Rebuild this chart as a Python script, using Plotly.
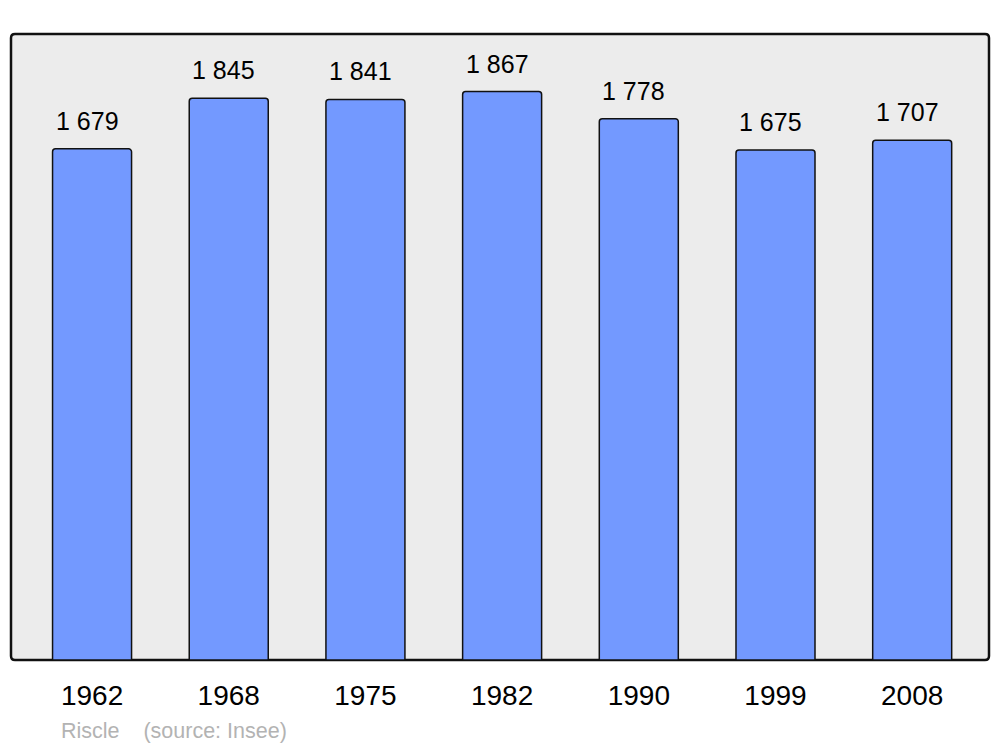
import plotly.graph_objects as go

years = ["1962", "1968", "1975", "1982", "1990", "1999", "2008"]
population = [1679, 1845, 1841, 1867, 1778, 1675, 1707]
value_labels = ["1 679", "1 845", "1 841", "1 867", "1 778", "1 675", "1 707"]
source_text = "Riscle    (source: Insee)"

FONT = "Liberation Sans, Arial, sans-serif"

fig = go.Figure()
fig.add_trace(go.Bar(
    x=years, y=population, width=0.578,
    marker=dict(color="#7399ff", line=dict(color="#111111", width=1.5), cornerradius=3),
    hoverinfo="skip",
))

for i, (v, lab) in enumerate(zip(population, value_labels)):
    fig.add_annotation(x=i, y=v, xref="x", yref="y", text=lab, showarrow=False,
                       yshift=28, xshift=-5,
                       font=dict(family=FONT, size=25, color="#000000"))

# rounded frame
rx, ry = 4 / 978, 4 / 626
path = (f"M {rx},0 L {1-rx},0 Q 1,0 1,{ry} L 1,{1-ry} Q 1,1 {1-rx},1 "
        f"L {rx},1 Q 0,1 0,{1-ry} L 0,{ry} Q 0,0 {rx},0 Z")
fig.add_shape(type="path", path=path, xref="paper", yref="paper",
              line=dict(color="#111111", width=2.5), fillcolor="#ececec", layer="below")

fig.add_annotation(x=0, y=0, xref="paper", yref="paper", xanchor="left", yanchor="top",
                   xshift=48, yshift=-57, text=source_text, showarrow=False,
                   font=dict(family=FONT, size=21.5, color="#b3b3b3"))

fig.update_layout(
    width=1000, height=747,
    margin=dict(l=11, r=11, t=34, b=87),
    paper_bgcolor="white", plot_bgcolor="rgba(0,0,0,0)",
    showlegend=False,
    xaxis=dict(type="category", range=[-0.593, 6.562], showgrid=False, zeroline=False,
               showline=False, ticks="outside", ticklen=10, tickcolor="rgba(0,0,0,0)",
               tickfont=dict(family=FONT, size=28, color="#000000")),
    yaxis=dict(range=[0, 2056], showgrid=False, zeroline=False, showticklabels=False,
               showline=False),
)

# remove the browser's default 8px body margin so the figure fills the window exactly
fig.write_html("out.html", config={"displayModeBar": False},
               post_script="document.body.style.margin='0';document.body.style.overflow='hidden';")
